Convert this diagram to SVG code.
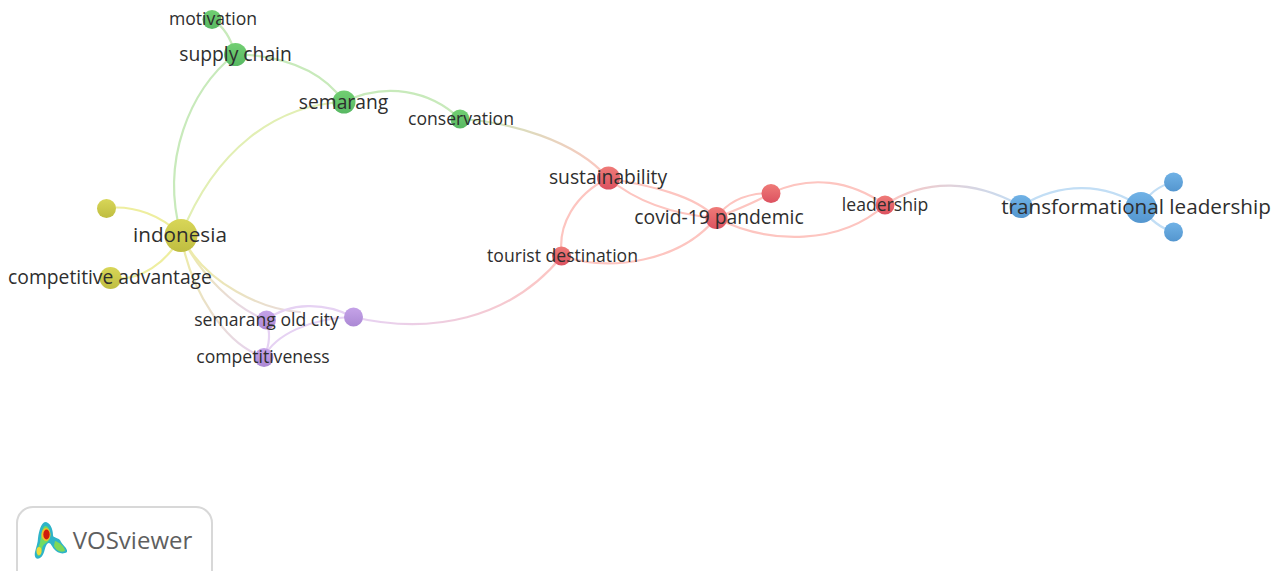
<svg xmlns="http://www.w3.org/2000/svg" width="1278" height="571" viewBox="0 0 1278 571">
<style>
text{font-family:"Open Sans","DejaVu Sans",sans-serif;fill:#2e2e2e;text-anchor:middle;dominant-baseline:central}
.x{font-size:20.7px}.l{font-size:19.3px}.s{font-size:17.6px}
.e{fill:none;stroke-width:2.2;stroke-linecap:round}
.red{stroke:#fdc5c0}.green{stroke:#c8eabb}.yg{stroke:#e2efb4}.yel{stroke:#eeee9f}.pur{stroke:#e6d2f3}.blue{stroke:#c2def5}
.nr{fill:url(#gr)}.ng{fill:url(#gg)}.ny{fill:url(#gy)}.np{fill:url(#gp)}.nb{fill:url(#gb)}
</style>
<defs>
<linearGradient id="gr" x2="0" y2="1"><stop offset="0" stop-color="#ef7b78"/><stop offset="1" stop-color="#dc5260"/></linearGradient>
<linearGradient id="gg" x2="0" y2="1"><stop offset="0" stop-color="#72cf72"/><stop offset="1" stop-color="#58b863"/></linearGradient>
<linearGradient id="gy" x2="0" y2="1"><stop offset="0" stop-color="#d8d658"/><stop offset="1" stop-color="#bfbd40"/></linearGradient>
<linearGradient id="gp" x2="0" y2="1"><stop offset="0" stop-color="#c5a3e8"/><stop offset="1" stop-color="#ab88d4"/></linearGradient>
<linearGradient id="gb" x2="0" y2="1"><stop offset="0" stop-color="#70b2e6"/><stop offset="1" stop-color="#5496cf"/></linearGradient>
<linearGradient id="e1" gradientUnits="userSpaceOnUse" x1="460" y1="119" x2="608" y2="178"><stop offset="0" stop-color="#c8eabb"/><stop offset="1" stop-color="#fdc5c0"/></linearGradient>
<linearGradient id="e2" gradientUnits="userSpaceOnUse" x1="885" y1="205" x2="1021" y2="206"><stop offset="0" stop-color="#fdc5c0"/><stop offset="1" stop-color="#c2def5"/></linearGradient>
<linearGradient id="e3" gradientUnits="userSpaceOnUse" x1="181" y1="235" x2="353" y2="317"><stop offset="0" stop-color="#eeee9f"/><stop offset="1" stop-color="#e6d2f3"/></linearGradient>
<linearGradient id="e4" gradientUnits="userSpaceOnUse" x1="181" y1="235" x2="264" y2="357"><stop offset="0" stop-color="#eeee9f"/><stop offset="1" stop-color="#e6d2f3"/></linearGradient>
<linearGradient id="e5" gradientUnits="userSpaceOnUse" x1="353" y1="317" x2="562" y2="256"><stop offset="0" stop-color="#e6d2f3"/><stop offset="1" stop-color="#fdc5c0"/></linearGradient>
<linearGradient id="e6" gradientUnits="userSpaceOnUse" x1="181" y1="235" x2="266" y2="320"><stop offset="0" stop-color="#eeee9f"/><stop offset="1" stop-color="#e6d2f3"/></linearGradient>
<filter id="soft" x="-20%" y="-20%" width="140%" height="140%"><feGaussianBlur stdDeviation="0.7"/></filter>
</defs>
<rect width="1278" height="571" fill="#fff"/>
<g id="connectors">
<path class="e green" d="M212 19Q229 30 235 54"/>
<path class="e green" d="M235 54C190 90 160 160 181 235"/>
<path class="e green" d="M235 54C285 56 322 70 344 102"/>
<path class="e yg" d="M344 102C275 105 215 150 181 235"/>
<path class="e green" d="M344 102C385 82 430 90 460 119"/>
<path class="e" stroke="url(#e1)" d="M460 119C510 122 575 140 608 178"/>
<path class="e yel" d="M107 208C135 205 162 216 181 235"/>
<path class="e yel" d="M111 278C140 282 168 262 181 235"/>
<path class="e" stroke="url(#e3)" d="M181 235C205 285 265 310 300 312"/>
<path class="e" stroke="url(#e6)" d="M181 235C200 275 235 308 266 320"/>
<path class="e" stroke="url(#e4)" d="M181 235C190 290 225 345 264 357"/>
<path class="e pur" d="M266 320C290 302 325 302 353 317"/>
<path class="e pur" d="M266 320Q273 338 264 357"/>
<path class="e pur" d="M264 357C275 335 310 318 353 317"/>
<path class="e" stroke="url(#e5)" d="M353 317C430 335 510 320 562 256"/>
<path class="e red" d="M562 256C557 225 575 195 608 178"/>
<path class="e red" d="M562 256C610 272 680 262 716 218"/>
<path class="e red" d="M608 178C650 186 695 195 716 218"/>
<path class="e red" d="M608 178C640 205 680 215 716 218"/>
<path class="e red" d="M716 218C730 198 750 193 771 193"/>
<path class="e red" d="M716 218C735 210 755 203 771 193"/>
<path class="e red" d="M771 193C810 175 850 180 885 205"/>
<path class="e red" d="M716 218C770 245 840 245 885 205"/>
<path class="e" stroke="url(#e2)" d="M885 205C925 178 975 180 1021 206"/>
<path class="e blue" d="M1021 206C1060 182 1105 182 1141 207"/>
<path class="e blue" d="M1141 207Q1152 187 1174 182"/>
<path class="e blue" d="M1141 207Q1155 227 1174 232"/>
</g>
<g id="n-motivation"><circle class="ng" cx="212" cy="19.500" r="9.500"/><text class="s" x="213" y="18">motivation</text></g>
<g id="n-supply-chain"><circle class="ng" cx="235.500" cy="54.500" r="11.500"/><text class="l" x="235.500" y="53">supply chain</text></g>
<g id="n-semarang"><circle class="ng" cx="344" cy="102" r="11.500"/><text class="l" x="343.500" y="101">semarang</text></g>
<g id="n-conservation"><circle class="ng" cx="460" cy="119" r="9.500"/><text class="s" x="461" y="117.500">conservation</text></g>
<g id="n-sustainability"><circle class="nr" cx="608.500" cy="178" r="11.500"/><text class="l" x="608" y="176.500">sustainability</text></g>
<g id="n-covid"><circle class="nr" cx="716.500" cy="218" r="11"/><text class="l" x="719" y="216.500">covid-19 pandemic</text></g>
<g id="n-red-unlabelled"><circle class="nr" cx="771" cy="193.500" r="9.500"/></g>
<g id="n-leadership"><circle class="nr" cx="885" cy="205" r="9.500"/><text class="s" x="885" y="203.500">leadership</text></g>
<g id="n-tourist"><circle class="nr" cx="561.500" cy="256" r="9.500"/><text class="s" x="562.500" y="254.500">tourist destination</text></g>
<g id="n-transformational"><circle class="nb" cx="1021" cy="206.500" r="11.500"/></g>
<g id="n-transformational-leadership"><circle class="nb" cx="1141" cy="207.500" r="15.500"/><text class="x" x="1136" y="206">transformational leadership</text></g>
<g id="n-blue-a"><circle class="nb" cx="1173.500" cy="182" r="9.500"/></g>
<g id="n-blue-b"><circle class="nb" cx="1173.500" cy="232" r="9.500"/></g>
<g id="n-indonesia"><circle class="ny" cx="181" cy="235.500" r="16.500"/><text class="x" x="180" y="234">indonesia</text></g>
<g id="n-yellow"><circle class="ny" cx="106.500" cy="208.500" r="9.500"/></g>
<g id="n-competitive"><circle class="ny" cx="110.500" cy="278" r="11"/><text class="l" x="110" y="276.500">competitive advantage</text></g>
<g id="n-old-city"><circle class="np" cx="266.500" cy="320" r="9.500"/><text class="s" x="266.500" y="318.500">semarang old city</text></g>
<g id="n-purple"><circle class="np" cx="353.500" cy="317" r="9.500"/></g>
<g id="n-competitiveness"><circle class="np" cx="264" cy="357.500" r="9.500"/><text class="s" x="263" y="356">competitiveness</text></g>
<g id="logo">
<rect x="17" y="507" width="195" height="80" rx="16" fill="#fff" stroke="#d8d8d8" stroke-width="2"/>
<g filter="url(#soft)">
<path fill="#2fb4c8" d="M45 522C50 522 53 529 53 535C53 538 57 537 60 540C62 545 68 548 67 552C63 555 57 553 54 549C51 545 50 541 47 544C44 548 45 555 40 558C36 560 34 557 35 552C36 547 38 543 38 538C39 531 41 523 45 522Z"/>
<path fill="#6fdc62" d="M45 526C49 526 51 532 50 538C49 542 45 543 43 546C41 550 42 556 38 556C36 553 38 548 40 543C41 536 42 528 45 526Z"/>
<path fill="#7ed858" d="M55 541C59 542 65 547 65 551C60 553 56 550 54 546Z"/>
<ellipse cx="39" cy="551" rx="2.500" ry="4" fill="#ecdc3c"/>
<ellipse cx="46" cy="534.500" rx="4.500" ry="6.500" fill="#f2c02c"/>
<ellipse cx="46.500" cy="534.500" rx="3.200" ry="5" fill="#cf1f10"/>
</g>
<text x="132.500" y="539" style="font-size:24px;fill:#5f5f5f">VOSviewer</text>
</g>
</svg>
